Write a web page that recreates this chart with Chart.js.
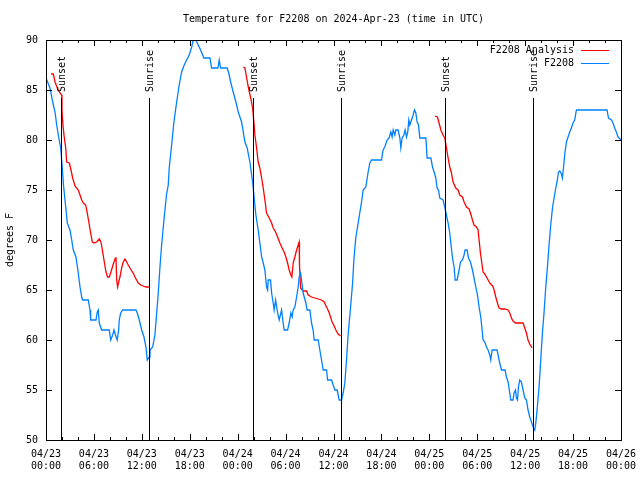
<!DOCTYPE html>
<html lang="en">
  <head>
    <meta charset="UTF-8" />
    <title>F2208 temperature</title>
    <script src="https://cdn.jsdelivr.net/npm/chart.js"></script>
    <style>
      html, body { margin: 0; padding: 0; background: #fff; }
      canvas { display: block; }
    </style>
  </head>
  <body>
    <canvas id="tempChart" width="640" height="480"></canvas>

    <script>
      // hours since 04/23 00:00 UTC
      const obsHours = [0,0.5,0.84,1.13,1.34,1.54,1.84,2.04,2.19,2.38,
        2.67,3.0,3.22,3.42,3.75,4.04,4.26,4.47,4.59,5.29,
        5.51,5.59,6.26,6.42,6.55,6.67,6.97,7.92,8.1,8.35,
        8.51,8.7,8.92,9.1,9.17,9.35,9.6,11.26,11.43,11.68,
        11.98,12.27,12.52,12.68,12.93,13.02,13.35,13.64,13.86,14.06,
        14.27,14.48,14.77,15.08,15.31,15.43,15.73,16.02,16.36,16.68,
        16.98,17.31,17.61,17.93,18.24,18.44,18.77,19.06,19.36,19.77,
        20.53,20.74,21.53,21.69,21.86,22.69,22.94,23.12,23.44,23.78,
        24.07,24.49,24.91,25.19,25.53,25.87,26.03,26.28,26.57,26.78,
        27.0,27.2,27.41,27.62,27.75,27.82,28.12,28.25,28.45,28.57,
        28.75,29.0,29.2,29.5,29.7,29.82,30.25,30.45,30.66,30.82,
        30.95,31.16,31.38,31.58,31.7,31.88,32.0,32.2,32.54,32.7,
        33.04,33.25,33.45,33.58,34.08,34.29,34.5,34.71,35.13,35.26,
        35.76,35.96,36.17,36.46,36.71,37.01,37.21,37.42,37.63,37.83,
        38.14,38.39,38.55,38.8,39.09,39.51,39.71,40.05,40.34,40.55,
        40.76,42.01,42.21,42.42,42.71,42.96,43.18,43.34,43.47,43.68,
        43.8,44.09,44.31,44.43,44.59,44.81,44.97,45.14,45.3,45.43,
        45.56,45.77,45.97,46.14,46.31,46.47,46.65,46.81,47.56,47.65,
        47.72,48.19,48.4,48.6,48.81,48.97,49.15,49.31,49.72,49.93,
        50.35,50.56,50.69,50.9,51.1,51.23,51.48,51.73,51.9,52.15,
        52.35,52.48,52.73,52.9,53.15,53.4,53.6,53.82,54.03,54.23,
        54.44,54.57,54.73,54.94,55.16,55.36,55.57,55.69,55.86,56.48,
        56.66,56.82,57.03,57.48,57.66,57.86,58.07,58.2,58.48,58.61,
        58.79,58.91,59.04,59.16,59.32,59.53,59.74,59.95,60.16,60.36,
        60.57,60.79,60.99,61.2,61.33,61.49,61.74,61.95,62.16,62.36,
        62.58,62.79,62.99,63.2,63.42,63.62,63.83,63.99,64.17,64.33,
        64.54,64.66,64.83,64.99,65.17,65.37,65.58,65.79,65.99,66.2,
        66.42,70.25,70.43,70.8,71.0,71.21,71.42,71.62,72];
      const obsTemps = [86.2,85.2,83.8,82.8,81.5,80.5,79.2,77.2,75.5,74,
        71.7,71,70,69,68.3,66.7,65.3,64.3,64,64,
        63,62,62,62.8,63,61.7,61,61,60,60.5,
        61,60.5,60,61,62,62.7,63,63,62.7,62,
        61,60.3,59.3,58,58.3,59,59.3,60.5,62.7,64.7,
        67.3,69.5,72,74.5,75.5,77.2,79.5,81.8,83.8,85.5,
        86.8,87.5,88,88.5,89.3,90,90,89.5,89,88.2,
        88.2,87.2,87.2,88,87.2,87.2,86.5,85.8,84.8,83.8,
        82.8,81.8,79.8,79.2,77.8,75.8,74.5,72.5,71,69.7,
        68.3,67.7,67,65.3,65,66,66,64.7,63.7,63,
        64,62.7,62,63,61.7,61,61,61.7,62.7,62.3,
        63,63.3,64.3,65.3,66.3,66.7,66,64.7,63.7,63,
        63,61.7,61,60,60,59,58,57,57,56,
        56,55.5,55,55,54,54,54.7,55.7,58,60.5,
        63.3,65.7,68,70.3,71.7,73.8,75,75.3,76.8,77.7,
        78,78,79,79.3,80,80.2,80.8,80.3,81,80.5,
        81,81,80.2,79.2,80.2,80.5,81,80.3,80.8,82,
        81.5,82,82.5,83,82.7,81.8,81.5,80.2,80.2,79.2,
        78.2,78.2,77.3,76.8,76.2,75.2,75,74.2,74,73.3,
        71.7,70.7,69.7,68.2,67.3,66,66,67,67.8,68,
        68.5,69,69,68.2,67.8,67,66.2,65.3,64.5,63.3,
        62.3,61.3,60,59.8,59.3,59,58.5,58,59,59,
        58.3,57.7,57,57,56.3,55.8,54.7,54,54,54.7,
        55,54.2,54,55.3,56,55.8,55,54.2,54,53,
        52.3,51.8,51.3,51,51.7,53,55.3,58,60.7,62.7,
        65.3,67.3,69.5,71.5,73.2,74.2,75.2,75.8,76.8,76.9,
        76.6,76.2,77.5,78.8,79.8,80.3,80.8,81.2,81.7,82,
        83,83,82.2,82,81.7,81.2,80.8,80.3,80];

      // analysis runs at night only; null temps break the line between nights
      const anaHours = [0.63,0.92,1.13,1.42,1.75,1.97,2.0,2.09,2.25,2.47,
        2.59,2.92,3.13,3.34,3.63,4.04,4.26,4.47,4.67,4.97,
        5.17,5.38,5.59,5.8,6.01,6.35,6.67,6.88,7.1,7.3,
        7.51,7.72,7.92,8.13,8.35,8.64,8.76,8.85,8.97,9.1,
        9.26,9.47,9.67,9.89,10.1,10.3,10.51,10.73,10.93,11.14,
        11.35,11.55,11.85,12.18,12.52,12.89,
        18,
        24.7,24.91,25.13,25.33,25.63,25.87,26.03,26.16,26.37,26.57,
        26.78,27.0,27.2,27.41,27.62,27.95,28.25,28.45,28.75,29.0,
        29.29,29.57,29.82,30.04,30.25,30.45,30.66,30.79,30.95,31.16,
        31.38,31.58,31.7,31.74,31.88,32.2,32.63,32.83,33.25,33.67,
        34.08,34.5,34.83,35.13,35.42,35.63,35.83,36.08,36.3,36.58,
        36.88,
        42,
        48.69,49.02,49.22,49.44,49.72,49.93,50.15,50.35,50.56,50.77,
        50.97,51.31,51.6,51.81,52.15,52.35,52.65,52.98,53.15,53.4,
        53.6,53.9,54.1,54.23,54.4,54.57,54.73,54.94,55.16,55.36,
        55.57,55.78,55.94,56.11,56.32,56.53,56.73,57.03,57.45,57.86,
        58.07,58.28,58.48,58.79,59.32,59.74,59.95,60.16,60.36,60.57,
        60.79,60.86];
      const anaTemps = [86.6,86.6,85.8,85.2,84.7,84.5,83,81.8,80.5,79.2,
        77.8,77.7,77,76.2,75.4,75,74.5,74,73.7,73.5,
        72.7,71.7,70.7,69.8,69.7,69.8,70.1,69.8,68.8,67.8,
        66.8,66.3,66.3,66.8,67.4,68.1,68.3,66,65.3,65.8,
        66.3,67.2,67.8,68.1,67.8,67.5,67.2,66.9,66.7,66.3,
        66,65.7,65.5,65.4,65.3,65.3,
        null,
        87.3,87.2,86.2,85.3,84.2,83.2,81.8,80.5,79.2,77.8,
        77.2,76.2,75.2,74,72.7,72.2,71.7,71.2,70.8,70.3,
        69.7,69.2,68.8,68.3,67.7,67,66.5,66.3,67.7,68.3,
        69,69.5,69.8,67.5,65.2,64.9,64.9,64.5,64.3,64.2,
        64.1,64,63.8,63.3,62.8,62.3,61.8,61.4,61,60.6,
        60.4,
        null,
        82.4,82.3,81.7,81,80.5,80.2,79.2,78.2,77.3,76.7,
        75.8,75.2,75,74.5,74.3,73.8,73.3,73.1,72.7,72,
        71.5,71.3,71,70,68.7,67.7,66.8,66.6,66.3,66,
        65.7,65.5,65.4,65,64.3,63.7,63.2,63.1,63.1,63,
        62.7,62.2,61.9,61.7,61.7,61.7,61.2,60.7,60,59.6,
        59.3,59.2];

      const sunsetHours = [1.93, 25.95, 49.9];
      const sunriseHours = [12.95, 36.95, 60.92];
      const sunLineTop = 84.2; // marker lines run from here down to the x axis

      const mono = '"DejaVu Sans Mono", monospace';
      Chart.defaults.font.family = mono;
      Chart.defaults.font.size = 10;
      Chart.defaults.color = "#000";

      const toPoints = (xs, ys) => xs.map((h, i) => ({ x: h, y: ys[i] }));

      const timeLabel = (v) => {
        const day = 23 + Math.floor(v / 24);
        const hh = String(v % 24).padStart(2, "0");
        return ["04/" + day, hh + ":00"];
      };

      // border, inward ticks, sunrise/sunset markers and key, gnuplot style
      const overlay = {
        id: "overlay",
        afterDatasetsDraw(chart) {
          const { ctx, chartArea: a, scales: { x, y } } = chart;
          const seg = (x1, y1, x2, y2) => {
            ctx.beginPath();
            ctx.moveTo(x1, y1);
            ctx.lineTo(x2, y2);
            ctx.stroke();
          };
          ctx.save();
          ctx.lineWidth = 1;
          ctx.strokeStyle = "#000";
          ctx.fillStyle = "#000";
          ctx.font = "10px " + mono;

          const yTop = Math.round(y.getPixelForValue(sunLineTop));
          const marker = (hours, label) => {
            hours.forEach((h) => {
              const px = Math.round(x.getPixelForValue(h)) + 0.5;
              seg(px, yTop, px, a.bottom);
              ctx.save();
              ctx.translate(px + 1, yTop - 6);
              ctx.rotate(-Math.PI / 2);
              ctx.textAlign = "left";
              ctx.textBaseline = "middle";
              ctx.fillText(label, 0, 0);
              ctx.restore();
            });
          };
          marker(sunsetHours, "Sunset");
          marker(sunriseHours, "Sunrise");

          for (let h = 0; h <= 72; h += 2) {
            const px = Math.round(x.getPixelForValue(h)) + 0.5;
            const len = h % 6 === 0 ? 6 : 3;
            seg(px, a.bottom, px, a.bottom - len);
            seg(px, a.top, px, a.top + len);
          }
          for (let t = 50; t <= 90; t += 5) {
            const py = Math.round(y.getPixelForValue(t)) + 0.5;
            seg(a.left, py, a.left + 6, py);
            seg(a.right, py, a.right - 6, py);
          }
          ctx.strokeRect(a.left + 0.5, a.top + 0.5, a.right - a.left, a.bottom - a.top);

          // key, top right inside the frame
          chart.data.datasets.forEach((ds, i) => {
            const ky = a.top + 10 + i * 13;
            ctx.textAlign = "right";
            ctx.textBaseline = "middle";
            ctx.fillStyle = "#000";
            ctx.fillText(ds.label, a.right - 47, ky);
            ctx.strokeStyle = ds.borderColor;
            seg(a.right - 40, ky + 0.5, a.right - 12, ky + 0.5);
          });
          ctx.restore();
        },
      };

      new Chart(document.getElementById("tempChart"), {
        type: "line",
        data: {
          datasets: [
            {
              label: "F2208 Analysis",
              data: toPoints(anaHours, anaTemps),
              borderColor: "#ff0000",
              borderWidth: 1.3,
              pointRadius: 0,
              spanGaps: false,
              order: 2,
            },
            {
              label: "F2208",
              data: toPoints(obsHours, obsTemps),
              borderColor: "#0080ff",
              borderWidth: 1.3,
              pointRadius: 0,
              order: 1,
            },
          ],
        },
        options: {
          responsive: false,
          animation: false,
          devicePixelRatio: 1,
          layout: { padding: { left: 0, right: 19, top: 0, bottom: 0 } },
          plugins: {
            legend: { display: false },
            tooltip: { enabled: false },
            title: {
              display: true,
              text: "Temperature for F2208 on 2024-Apr-23 (time in UTC)",
              fullSize: false,
              font: { size: 10, weight: "normal" },
              padding: { top: 13, bottom: 15 },
            },
          },
          scales: {
            x: {
              type: "linear",
              min: 0,
              max: 72,
              grid: { display: false, drawTicks: false },
              border: { display: false },
              ticks: {
                stepSize: 6,
                autoSkip: false,
                maxRotation: 0,
                padding: 8,
                callback: (v) => (v % 6 === 0 ? timeLabel(v) : ""),
              },
              afterFit: (s) => {
                s.height = 40;
                s.paddingLeft = 0;
                s.paddingRight = 0;
              },
            },
            y: {
              min: 50,
              max: 90,
              grid: { display: false, drawTicks: false },
              border: { display: false },
              ticks: { stepSize: 5, padding: 8 },
              title: {
                display: true,
                text: "degrees F",
                padding: { top: 4, bottom: 4 },
              },
              afterFit: (s) => {
                s.width = 46;
                s.paddingTop = 0;
                s.paddingBottom = 0;
              },
            },
          },
        },
        plugins: [overlay],
      });
    </script>
  </body>
</html>
